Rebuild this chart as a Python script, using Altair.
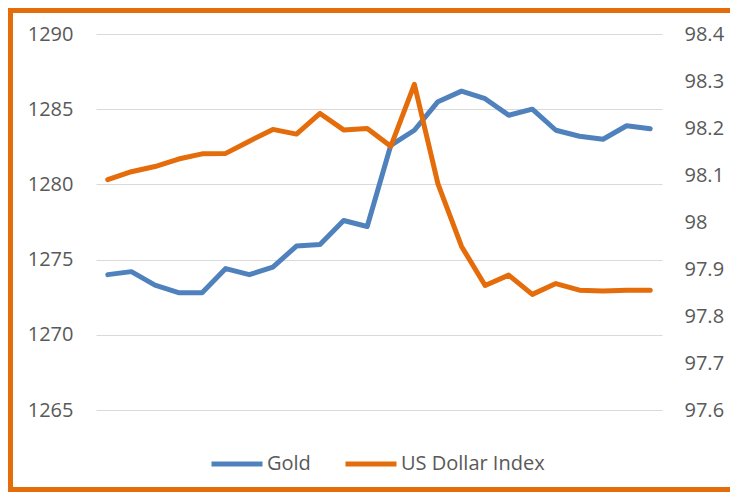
import altair as alt
import pandas as pd

days = list(range(1, 25))
gold = [1274.0, 1274.2, 1273.3, 1272.8, 1272.8, 1274.4, 1274.0, 1274.5, 1275.9, 1276.0,
        1277.6, 1277.2, 1282.6, 1283.6, 1285.5, 1286.2, 1285.7, 1284.6, 1285.0, 1283.6,
        1283.2, 1283.0, 1283.9, 1283.7]
usd = [98.090, 98.107, 98.118, 98.134, 98.145, 98.146, 98.172, 98.197, 98.187, 98.231,
       98.196, 98.199, 98.161, 98.293, 98.081, 97.948, 97.865, 97.887, 97.846, 97.869,
       97.855, 97.853, 97.855, 97.855]
series_names = ["Gold", "US Dollar Index"]
series_colors = ["#4F81BD", "#E46C0A"]
gold_ticks = [1265, 1270, 1275, 1280, 1285, 1290]
usd_ticks = [97.6, 97.7, 97.8, 97.9, 98.0, 98.1, 98.2, 98.3, 98.4]

df_gold = pd.DataFrame({"day": days, "value": gold, "series": series_names[0]})
df_usd = pd.DataFrame({"day": days, "value": usd, "series": series_names[1]})

W, H = 566, 376
FONT = "Open Sans"
LABEL_COLOR = "#595959"

x_enc = alt.X("day:Q", scale=alt.Scale(domain=[0.5, 24.5], nice=False), axis=None)
color_enc = alt.Color(
    "series:N",
    scale=alt.Scale(domain=series_names, range=series_colors),
    legend=alt.Legend(
        title=None, orient="none", direction="horizontal",
        legendX=113, legendY=402,
        symbolType="stroke", symbolSize=2601, symbolStrokeWidth=5,
        labelFont=FONT, labelFontSize=20, labelColor=LABEL_COLOR,
        labelOffset=2, columnPadding=24, padding=0,
    ),
)

gold_line = alt.Chart(df_gold).mark_line(
    strokeWidth=5, strokeCap="round", strokeJoin="round"
).encode(
    x=x_enc,
    y=alt.Y("value:Q", scale=alt.Scale(domain=[1265, 1290], nice=False, zero=False),
            axis=alt.Axis(title=None, values=gold_ticks, orient="left", grid=True,
                          gridColor="#D9D9D9", gridWidth=1, domain=False, ticks=False,
                          format="d",
                          labelFont=FONT, labelFontSize=20, labelColor=LABEL_COLOR,
                          labelPadding=23)),
    color=color_enc,
)

usd_line = alt.Chart(df_usd).mark_line(
    strokeWidth=5, strokeCap="round", strokeJoin="round"
).encode(
    x=x_enc,
    y=alt.Y("value:Q", scale=alt.Scale(domain=[97.6, 98.4], nice=False, zero=False),
            axis=alt.Axis(title=None, values=usd_ticks, orient="right", grid=False,
                          domain=False, ticks=False, format="~g",
                          labelFont=FONT, labelFontSize=20, labelColor=LABEL_COLOR,
                          labelPadding=22)),
    color=color_enc,
)

border = alt.Chart(pd.DataFrame({"b": [0]})).mark_rect(
    fill=None, stroke="#E46C0A", strokeWidth=5
).encode(
    x=alt.value(-85.5), x2=alt.value(W + 120),
    y=alt.value(-23.5), y2=alt.value(455.5),
)

chart = alt.layer(gold_line, usd_line, border).resolve_scale(y="independent").properties(
    width=W, height=H,
    background="white",
    autosize=alt.AutoSizeParams(type="none"),
    padding={"left": 88, "top": 26, "right": 68, "bottom": 82},
).configure_view(stroke=None)

chart.save("out.html", embed_options={"renderer": "svg", "actions": False})
